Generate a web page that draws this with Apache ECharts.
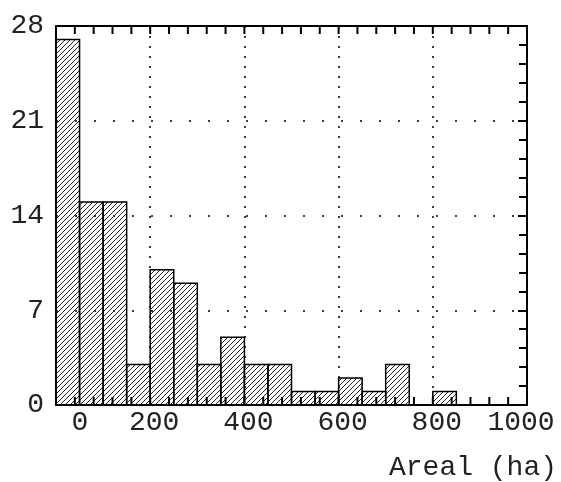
<!DOCTYPE html>
<html><head><meta charset="utf-8">
<script src="https://cdn.jsdelivr.net/npm/echarts@6/dist/echarts.min.js"></script>
<style>html,body{margin:0;padding:0;background:#fff}#c{width:561px;height:482px}</style>
</head><body><div id="c"></div>
<script>
const binStarts = [0,50,100,150,200,250,300,350,400,450,500,550,600,650,700,750,800];
const binWidth = 50;
const counts = [27,15,15,3,10,9,3,5,3,3,1,1,2,1,3,0,1];
const xTicks = [0,200,400,600,800,1000];
const xTickMarks = [40,80,120,160,200,240,280,320,360,400,440,480,520,560,600,640,680,720,760,800,840,880,920,960];
const yTicks = [0,7,14,21,28];
const xName = 'Areal (ha)';

const pc = document.createElement('canvas');
pc.width = 5; pc.height = 5;
const g = pc.getContext('2d');
g.strokeStyle = '#222'; g.lineWidth = 1;
g.beginPath();
g.moveTo(0,5); g.lineTo(5,0);
g.moveTo(-1,1); g.lineTo(1,-1);
g.moveTo(4,6); g.lineTo(6,4);
g.stroke();

const font = 'Liberation Mono';
const chart = echarts.init(document.getElementById('c'));
const data = binStarts.map((s,i)=>[s, s+binWidth, counts[i]]);
function axisCommon(extra) {
  return Object.assign({
    min: 0,
    axisLine: {show: true, onZero: false, lineStyle: {color: '#000', width: 2}},
    axisTick: {show: true, inside: true, length: 9, lineStyle: {color: '#000', width: 2}},
    minorTick: {show: true, splitNumber: 5, length: 8, lineStyle: {color: '#000', width: 2}},
  }, extra);
}
const noTicks = {axisTick: {show: false}, minorTick: {show: false}};
chart.setOption({
  animation: false,
  grid: {left: 56, right: 34, top: 26, bottom: 77},
  xAxis: [
    axisCommon(Object.assign({type: 'value', max: 1000, interval: 200, position: 'bottom',
      axisLabel: {margin: 4, fontFamily: font, fontSize: 28, color: '#222',
        formatter: v => v === 0 ? '{a|0}' : (v === 1000 ? '{b|1000}' : '{c|' + v + '}'),
        rich: {a: {fontFamily: font, fontSize: 28, padding: [0,0,0,48]},
               b: {fontFamily: font, fontSize: 28, padding: [0,12,0,0]},
               c: {fontFamily: font, fontSize: 28, padding: [0,0,0,8]}}},
      splitLine: {show: true, lineStyle: {color: '#000', type: [2, 8], width: 1.5}}}, noTicks)),
    axisCommon(Object.assign({type: 'value', max: 1000, interval: 200, position: 'top',
      axisLabel: {show: false}, splitLine: {show: false}}, noTicks))
  ],
  yAxis: [
    axisCommon(Object.assign({type: 'value', max: 28, interval: 7, position: 'left',
      axisLabel: {margin: 12, fontFamily: font, fontSize: 28, color: '#222'},
      splitLine: {show: true, lineStyle: {color: '#000', type: [2, 17], width: 1.5}}}, noTicks)),
    axisCommon({type: 'value', max: 28, interval: 7, position: 'right',
      axisLabel: {show: false}, splitLine: {show: false}})
  ],
  graphic: [{type: 'text', right: 4, top: 454,
    style: {text: xName, font: '28px "Liberation Mono"', fill: '#222'}}],
  series: [{
    type: 'custom', xAxisIndex: 0, yAxisIndex: 0, data: data, z: 5,
    renderItem: (params, api) => {
      const p0 = api.coord([api.value(0), 0]);
      const p1 = api.coord([api.value(1), api.value(2)]);
      if (api.value(2) <= 0) return null;
      return {type: 'rect',
        shape: {x: p0[0], y: p1[1], width: p1[0]-p0[0], height: p0[1]-p1[1]},
        style: {fill: {image: pc, repeat: 'repeat'}, stroke: '#000', lineWidth: 1.5}};
    }
  }, {
    type: 'custom', xAxisIndex: 0, yAxisIndex: 0, data: xTickMarks.map(v => [v]), z: 6,
    renderItem: (params, api) => {
      const top = api.coord([api.value(0), 28]);
      const bot = api.coord([api.value(0), 0]);
      return {type: 'group', children: [
        {type: 'line', shape: {x1: top[0], y1: top[1], x2: top[0], y2: top[1] + 8},
         style: {stroke: '#000', lineWidth: 2}},
        {type: 'line', shape: {x1: bot[0], y1: bot[1], x2: bot[0], y2: bot[1] - 8},
         style: {stroke: '#000', lineWidth: 2}}
      ]};
    }
  }]
});
</script></body></html>
